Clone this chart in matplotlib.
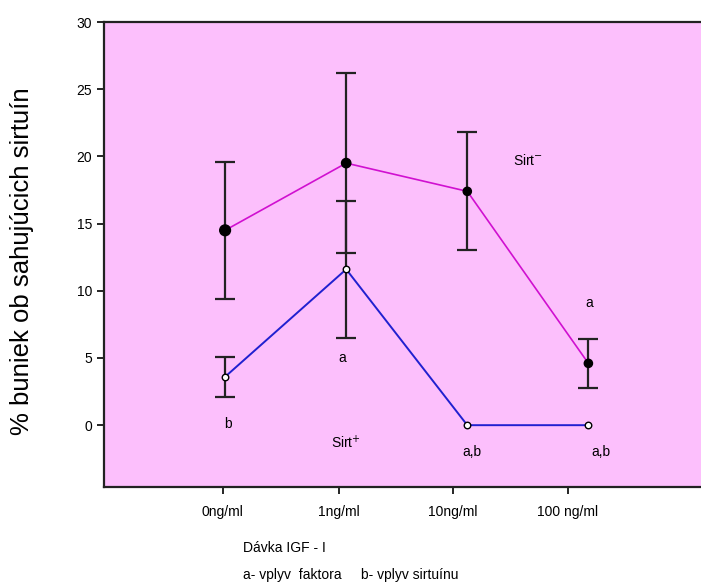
import numpy as np
from matplotlib import pyplot as plt

# data
doses = ["0ng/ml", "1ng/ml", "10ng/ml", "100 ng/ml"]
tick_pos = [-0.02, 0.94, 1.88, 2.83]   # labels sit a bit left of the points in the original

sirt_minus = [14.5, 19.5, 17.4, 4.6]
sirt_minus_err = [5.1, 6.7, 4.4, 1.8]

sirt_plus = [3.6, 11.6, 0.0, 0.0]
sirt_plus_err = [1.5, 5.1, 0.0, 0.0]

x = np.arange(len(doses))

plt.rcParams['font.family'] = ['Liberation Sans Narrow', 'Liberation Sans', 'DejaVu Sans']

fig = plt.figure(figsize=(7.01, 5.88), dpi=100)
ax = fig.add_axes([104 / 701, 1 - 487 / 588, 1 - 104 / 701, (487 - 22) / 588])
ax.set_facecolor('#FCBFFC')

# error bars
ax.errorbar(x, sirt_minus, yerr=sirt_minus_err, fmt='none', ecolor='#222222',
            elinewidth=1.6, capsize=7, capthick=1.6, zorder=2)
ax.errorbar(x[:2], sirt_plus[:2], yerr=sirt_plus_err[:2], fmt='none', ecolor='#222222',
            elinewidth=1.6, capsize=7, capthick=1.6, zorder=2)

# lines
ax.plot(x, sirt_minus, color='#D010D0', lw=1.2, zorder=3)
ax.plot(x, sirt_plus, color='#2020D0', lw=1.4, zorder=3)

# markers
ax.scatter(x, sirt_minus, s=[60, 45, 35, 35], color='black', zorder=4)
ax.scatter(x, sirt_plus, s=22, facecolor='white', edgecolor='black', lw=1.0, zorder=4)

# significance letters and series names
fs = 10
ax.text(0.02, 0.1, "b", fontsize=fs, ha='center', va='center')
ax.text(0.97, 5.0, "a", fontsize=fs, ha='center', va='center')
ax.text(2.04, -2.0, "a,b", fontsize=fs, ha='center', va='center')
ax.text(3.10, -2.0, "a,b", fontsize=fs, ha='center', va='center')
ax.text(3.01, 9.1, "a", fontsize=fs, ha='center', va='center')
ax.text(1.0, -1.3, r"Sirt$^{+}$", fontsize=fs, ha='center', va='center')
ax.text(2.5, 19.7, r"Sirt$^{-}$", fontsize=fs, ha='center', va='center')

ax.set_xlim(-1.0, 3.93)
ax.set_ylim(-4.6, 30)
ax.set_yticks([0, 5, 10, 15, 20, 25, 30])
ax.set_xticks(tick_pos)
ax.set_xticklabels(doses)
ax.tick_params(axis='both', direction='out', length=5, width=1.2, labelsize=10, colors='black')
ax.tick_params(axis='x', pad=8)

for side in ['left', 'top', 'bottom']:
    ax.spines[side].set_linewidth(1.6)
    ax.spines[side].set_color('#222222')
ax.spines['right'].set_visible(False)

ax.set_ylabel("% buniek ob sahujúcich sirtuín", fontsize=18.5, fontfamily='Liberation Sans')
ax.yaxis.set_label_coords(-0.118, 0.485)

fig.text(243 / 701, 1 - 548 / 588, "Dávka IGF - I", fontsize=10, va='center')
fig.text(243 / 701, 1 - 575 / 588, "a- vplyv  faktora     b- vplyv sirtuínu", fontsize=10, va='center')

plt.savefig("out.png", dpi=100)
